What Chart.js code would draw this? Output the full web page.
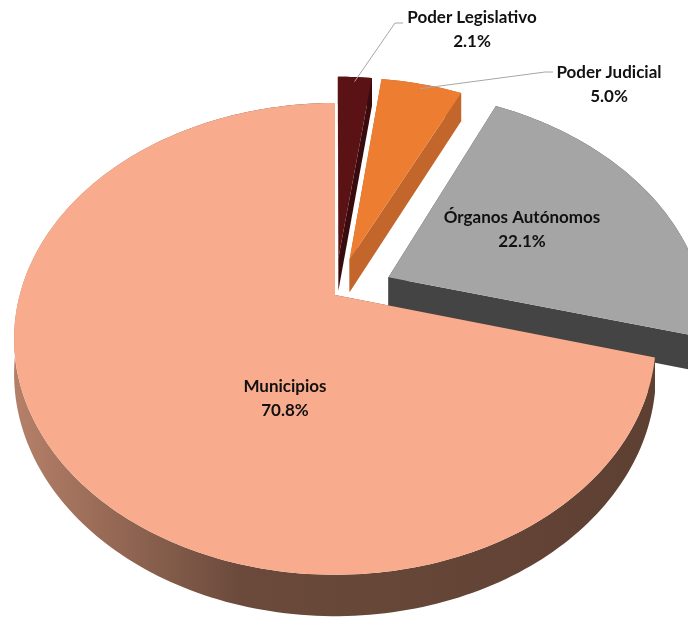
<!DOCTYPE html>
<html>
<head>
<meta charset="utf-8">
<script src="https://cdn.jsdelivr.net/npm/chart.js@4.4.1/dist/chart.umd.min.js"></script>
<style>
  html, body { margin: 0; padding: 0; background: #fff; }
  #pie { display: block; }
</style>
</head>
<body>
<canvas id="pie" width="688" height="619"></canvas>
<script>
// data
const categories = ['Poder Legislativo', 'Poder Judicial', 'Órganos Autónomos', 'Municipios'];
const shares = [2.1, 5.0, 22.1, 70.8];

// styles
const topColors = ['#5A1214', '#ED7D31', '#A5A5A5', '#F8AC8D'];
const sideColors = ['#3A0B0C', '#C3662B', '#444444', '#62432F'];
const explode = [45, 45, 51, 0];

// fake 3D view (ratios of the pie radius)
const SX = 1.17, SY = 0.845, DEPTH = 0.125, PERSP = 0.186;

function fmt(v) { return v.toFixed(1) + '%'; }

function makeProj(cx, cy, R) {
    return function(u, v, z) {
        const w = 1 - PERSP * v;
        return [cx + SX * R * u / w, cy + (SY * R * v + DEPTH * R * z) / w];
    };
}

function arcPoints(s, e, ou, ov) {
    const pts = [];
    const n = Math.max(8, Math.ceil((e - s) / 0.02));
    for (let i = 0; i <= n; i++) {
        const a = s + (e - s) * i / n;
        pts.push([ou + Math.cos(a), ov + Math.sin(a)]);
    }
    return pts;
}

function fillPoly(ctx, pts, color) {
    ctx.beginPath();
    pts.forEach((p, i) => i ? ctx.lineTo(p[0], p[1]) : ctx.moveTo(p[0], p[1]));
    ctx.closePath();
    ctx.fillStyle = color;
    ctx.fill();
}

const pie3d = {
    id: 'pie3d',
    beforeDatasetDraw(chart) {
        const ctx = chart.ctx;
        const arcs = chart.getDatasetMeta(0).data;
        const R = arcs[0].outerRadius;
        const proj = makeProj(arcs[0].x, arcs[0].y, R);

        const wallGrad = ctx.createLinearGradient(arcs[0].x - SX * R, 0, arcs[0].x + SX * R, 0);
        wallGrad.addColorStop(0, '#B47F68');
        wallGrad.addColorStop(0.35, '#6B4A3B');
        wallGrad.addColorStop(1, '#5E4032');

        // back slices first
        const order = arcs.map((a, i) => i).sort((i, j) => {
            const mi = Math.sin((arcs[i].startAngle + arcs[i].endAngle) / 2);
            const mj = Math.sin((arcs[j].startAngle + arcs[j].endAngle) / 2);
            return mi - mj;
        });

        order.forEach(i => {
            const arc = arcs[i];
            const s = arc.startAngle, e = arc.endAngle;
            const mid = (s + e) / 2;
            const t = (arc.options.offset || 0) / R;
            const ou = Math.cos(mid) * t, ov = Math.sin(mid) * t;
            const pts = arcPoints(s, e, ou, ov);
            const side = (i === 3) ? wallGrad : sideColors[i];

            // outer wall
            const top = pts.map(p => proj(p[0], p[1], 0));
            const bot = pts.map(p => proj(p[0], p[1], 1)).reverse();
            fillPoly(ctx, top.concat(bot), side);

            // radial faces
            [pts[0], pts[pts.length - 1]].forEach(p => {
                fillPoly(ctx, [proj(ou, ov, 0), proj(p[0], p[1], 0), proj(p[0], p[1], 1), proj(ou, ov, 1)], side);
            });

            // top face
            fillPoly(ctx, [proj(ou, ov, 0)].concat(top), arc.options.backgroundColor);
        });
        return false;
    },
    afterDraw(chart) {
        const ctx = chart.ctx;
        const arcs = chart.getDatasetMeta(0).data;
        const R = arcs[0].outerRadius;
        const cx = arcs[0].x, cy = arcs[0].y;
        const proj = makeProj(cx, cy, R);

        // label spots, relative to the pie centre
        const spots = [
            { dx: 137, dy: -265, outside: true, elbow: [60, -272] },
            { dx: 274, dy: -210, outside: true, elbow: [210, -223] },
            { dx: 187, dy: -65 },
            { dx: -50, dy: 104 }
        ];

        ctx.save();
        ctx.strokeStyle = '#A6A6A6';
        ctx.lineWidth = 1;
        spots.forEach((sp, i) => {
            if (!sp.outside) return;
            const arc = arcs[i];
            const mid = (arc.startAngle + arc.endAngle) / 2;
            const t = (arc.options.offset || 0) / R;
            const tip = proj(Math.cos(mid) * (t + 0.97), Math.sin(mid) * (t + 0.97), 0);
            ctx.beginPath();
            ctx.moveTo(cx + sp.elbow[0] + 8, cy + sp.elbow[1]);
            ctx.lineTo(cx + sp.elbow[0], cy + sp.elbow[1]);
            ctx.lineTo(tip[0], tip[1]);
            ctx.stroke();
        });

        ctx.fillStyle = '#111111';
        ctx.font = 'bold 17px Lato, "Open Sans", sans-serif';
        ctx.textAlign = 'center';
        ctx.textBaseline = 'middle';
        spots.forEach((sp, i) => {
            ctx.fillText(chart.data.labels[i], cx + sp.dx, cy + sp.dy - 12);
            ctx.fillText(fmt(chart.data.datasets[0].data[i]), cx + sp.dx, cy + sp.dy + 12);
        });
        ctx.restore();
    }
};

new Chart(document.getElementById('pie'), {
    type: 'pie',
    data: {
        labels: categories,
        datasets: [{
            data: shares,
            backgroundColor: topColors,
            borderWidth: 0,
            offset: explode
        }]
    },
    options: {
        responsive: false,
        animation: false,
        layout: { padding: { left: 0, right: 18, top: 0, bottom: 29 } },
        plugins: {
            legend: { display: false },
            tooltip: { enabled: false }
        }
    },
    plugins: [pie3d]
});
</script>
</body>
</html>
